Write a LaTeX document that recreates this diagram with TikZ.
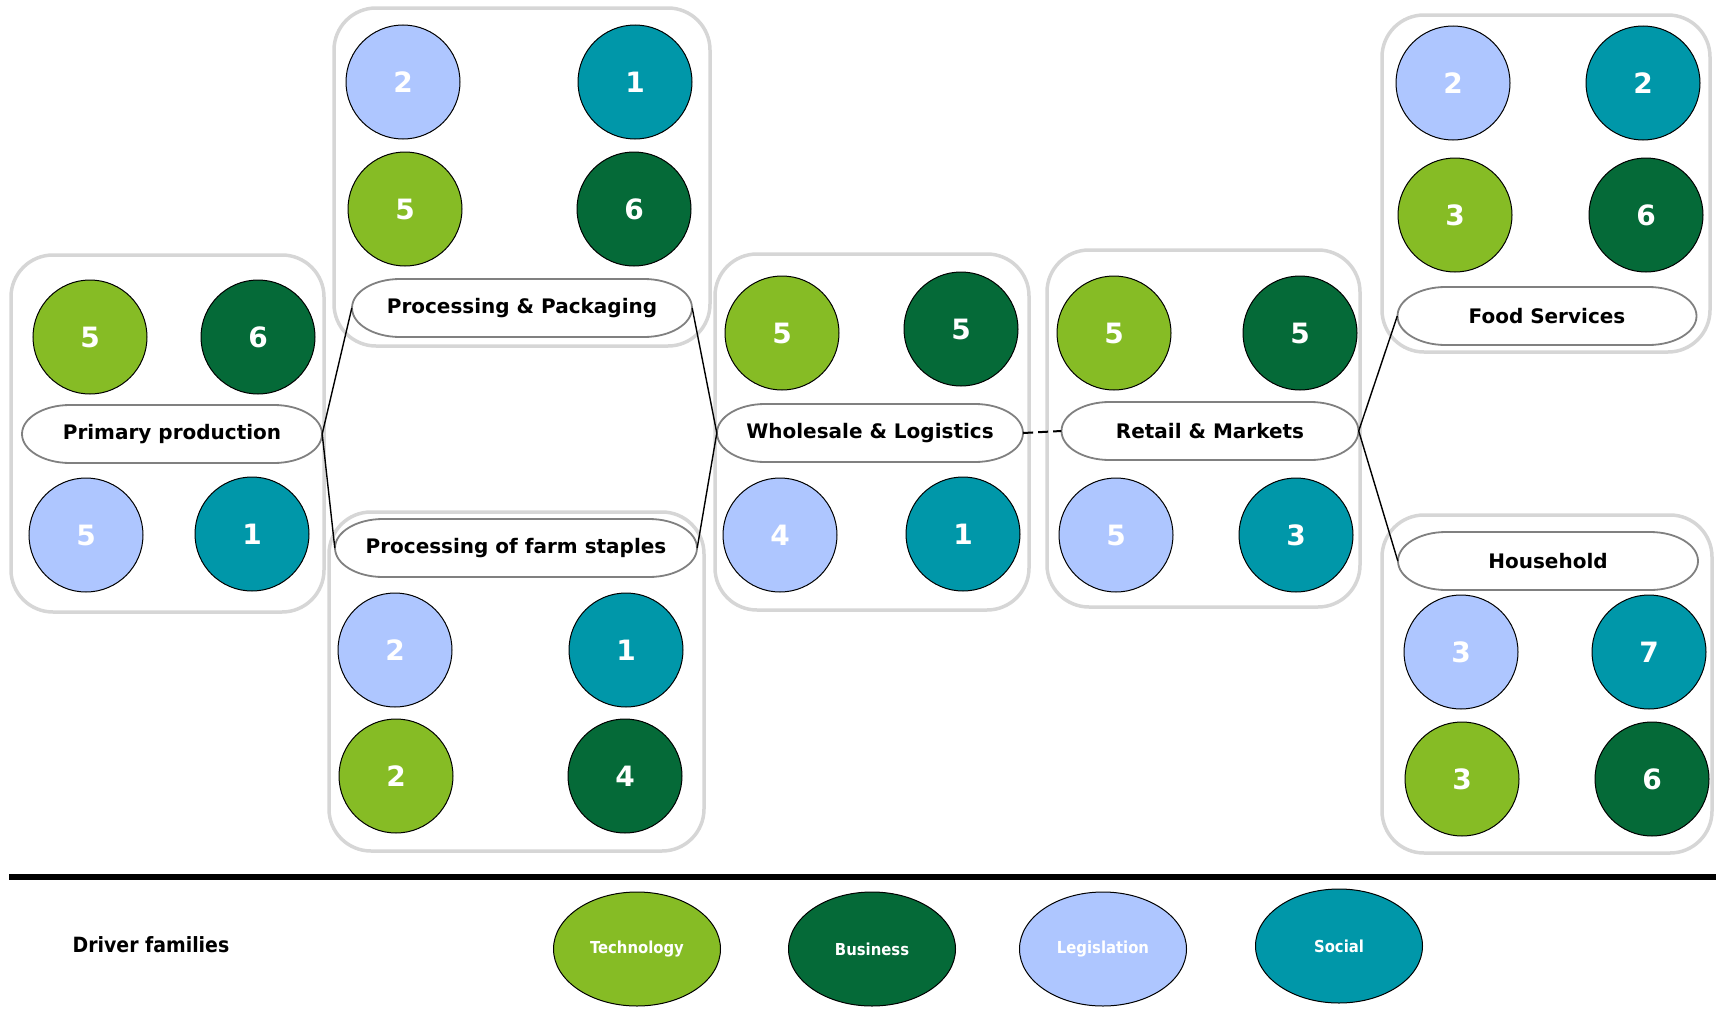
\documentclass[tikz,border=0pt]{standalone}
\usepackage{fontspec}
\setmainfont{DejaVu Sans}
\newfontfamily\condfont{DejaVu Sans Condensed}
\usetikzlibrary{shapes.geometric}

\definecolor{techgreen}{HTML}{86BC25}
\definecolor{busgreen}{HTML}{056A38}
\definecolor{legblue}{HTML}{AEC6FF}
\definecolor{socteal}{HTML}{0097A9}
\definecolor{framegray}{HTML}{D6D6D6}
\definecolor{rimgray}{HTML}{808080}

\tikzset{
  stage/.style={draw=framegray, line width=3.5pt, rounded corners=42pt},
  drv/.style={circle, minimum size=114pt, inner sep=0pt, draw=black, line width=1pt,
    text=white, font=\bfseries\fontsize{28}{30}\selectfont},
  tech/.style={drv, fill=techgreen},
  bus/.style={drv, fill=busgreen},
  legi/.style={drv, fill=legblue},
  soc/.style={drv, fill=socteal},
  lab/.style={rectangle, inner sep=0pt, minimum height=58pt, text=black,
    font=\bfseries\fontsize{20}{24}\selectfont},
  labrim/.style={draw=rimgray, line width=1.8pt, fill=white},
  link/.style={draw=black, line width=1.4pt},
  linkdash/.style={link, line width=2pt, dash pattern=on 10pt off 5pt},
  famkey/.style={ellipse, minimum width=167pt, minimum height=114pt, inner sep=0pt,
    draw=black, line width=1pt, text=white,
    font=\condfont\bfseries\fontsize{16.5}{18}\selectfont},
}

% stage label: rounded capsule outline with a named node on top
% #1 name, #2 x, #3 y, #4 width, #5 text
\newcommand\stagelab[5]{%
  \path[labrim] ({#2-#4/2+48},{#3-29}) -- ({#2+#4/2-48},{#3-29})
    arc[start angle=-90,end angle=90,x radius=48,y radius=29]
    -- ({#2-#4/2+48},{#3+29})
    arc[start angle=90,end angle=270,x radius=48,y radius=29] -- cycle;
  \node[lab, minimum width=#4] (#1) at (#2,#3) {#5};}

\begin{document}
\begin{tikzpicture}[x=1pt,y=-1pt]
\useasboundingbox (0,0) rectangle (1719,1009);

% stage frames
\draw[stage] (11,255) rectangle (324,612);
\draw[stage] (334,8) rectangle (710,346);
\draw[stage] (329,512) rectangle (704,851);
\draw[stage] (715,254) rectangle (1029,610);
\draw[stage] (1047,250) rectangle (1360,607);
\draw[stage] (1382,15) rectangle (1710,352);
\draw[stage] (1382,515) rectangle (1712,853);

% stage labels
\stagelab{primary}{172}{434}{300}{Primary production}
\stagelab{pp}{522}{308}{340}{Processing \& Packaging}
\stagelab{fs}{516}{548}{362}{Processing of farm staples}
\stagelab{wl}{870}{433}{306}{Wholesale \& Logistics}
\stagelab{rm}{1210}{431}{297}{Retail \& Markets}
\stagelab{food}{1547}{316}{299}{Food Services}
\stagelab{home}{1548}{561}{300}{Household}

% chain links
\draw[link] (primary.east) -- (pp.west);
\draw[link] (primary.east) -- (fs.west);
\draw[link] (pp.east) -- (wl.west);
\draw[link] (fs.east) -- (wl.west);
\draw[linkdash] (wl.east) -- (rm.west);
\draw[link] (rm.east) -- (food.west);
\draw[link] (rm.east) -- (home.west);

% driver counts per stage
\node[tech] (prT) at (90,337) {5};
\node[bus]  (prB) at (258,337) {6};
\node[legi] (prL) at (86,535) {5};
\node[soc]  (prS) at (252,534) {1};

\node[legi] (ppL) at (403,82) {2};
\node[soc]  (ppS) at (635,82) {1};
\node[tech] (ppT) at (405,209) {5};
\node[bus]  (ppB) at (634,209) {6};

\node[legi] (fsL) at (395,650) {2};
\node[soc]  (fsS) at (626,650) {1};
\node[tech] (fsT) at (396,776) {2};
\node[bus]  (fsB) at (625,776) {4};

\node[tech] (wlT) at (782,333) {5};
\node[bus]  (wlB) at (961,329) {5};
\node[legi] (wlL) at (780,535) {4};
\node[soc]  (wlS) at (963,534) {1};

\node[tech] (rmT) at (1114,333) {5};
\node[bus]  (rmB) at (1300,333) {5};
\node[legi] (rmL) at (1116,535) {5};
\node[soc]  (rmS) at (1296,535) {3};

\node[legi] (foL) at (1453,83) {2};
\node[soc]  (foS) at (1643,83) {2};
\node[tech] (foT) at (1455,215) {3};
\node[bus]  (foB) at (1646,215) {6};

\node[legi] (hoL) at (1461,652) {3};
\node[soc]  (hoS) at (1649,652) {7};
\node[tech] (hoT) at (1462,779) {3};
\node[bus]  (hoB) at (1652,779) {6};

% key
\coordinate (ruleL) at (9,877);
\coordinate (ruleR) at (1716,877);
\draw[line width=5.5pt] (ruleL) -- (ruleR);

\node[font=\condfont\bfseries\fontsize{21}{24}\selectfont] (keytitle) at (151,945) {Driver families};
\node[famkey, fill=techgreen] (keyT) at (637,949) {Technology};
\node[famkey, fill=busgreen]  (keyB) at (872,949) {Business};
\node[famkey, fill=legblue]   (keyL) at (1103,949) {Legislation};
\node[famkey, fill=socteal]   (keyS) at (1339,946) {Social};
\end{tikzpicture}
\end{document}
